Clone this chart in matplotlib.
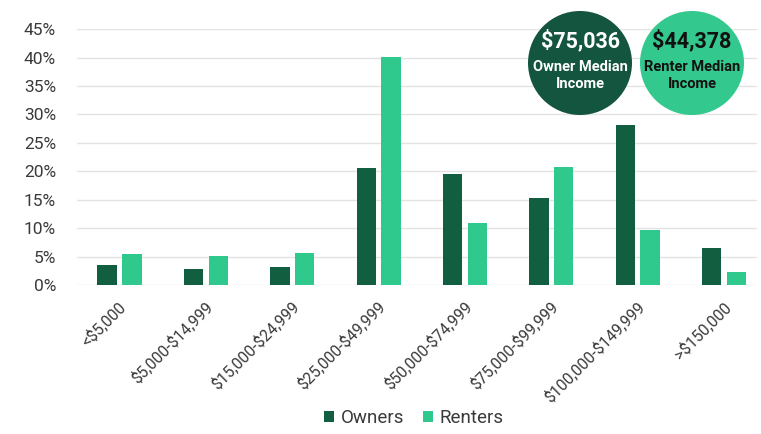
import matplotlib
matplotlib.use("Agg")
import matplotlib.pyplot as plt
from matplotlib.patches import Circle, Patch
import numpy as np

categories = ["<$5,000", "$5,000-$14,999", "$15,000-$24,999", "$25,000-$49,999",
              "$50,000-$74,999", "$75,000-$99,999", "$100,000-$149,999", ">$150,000"]
owners = [3.5, 2.9, 3.2, 20.6, 19.5, 15.4, 28.1, 6.6]
renters = [5.4, 5.1, 5.6, 40.1, 10.9, 20.7, 9.7, 2.3]
yticks = [0, 5, 10, 15, 20, 25, 30, 35, 40, 45]

owner_median = "$75,036"
renter_median = "$44,378"

OWNER_C = "#115e40"
RENTER_C = "#2fc98d"
TEXT_C = "#3a3a3a"

plt.rcParams['font.family'] = ['Roboto', 'DejaVu Sans']


def plain(s):
    # keep dollar signs literal instead of mathtext delimiters
    return s.replace("$", r"\$")


fig = plt.figure(figsize=(7.61, 4.34), dpi=100)
ax = fig.add_axes([0.101, 0.343, 0.894, 0.590])

x = np.arange(len(categories))
w = 0.226
off = 0.143
ax.bar(x - off, owners, width=w, color=OWNER_C, zorder=3)
ax.bar(x + off, renters, width=w, color=RENTER_C, zorder=3)

ax.set_xlim(-0.495, 7.385)
ax.set_ylim(0, 45)
ax.set_yticks(yticks)
ax.set_yticklabels([f"{v}%" for v in yticks], fontsize=12.5, color=TEXT_C)
ax.yaxis.grid(True, color="#e3e3e3", linewidth=1.0, zorder=0)
ax.set_axisbelow(True)
for s in ax.spines.values():
    s.set_visible(False)
ax.tick_params(axis="both", length=0)
ax.tick_params(axis="y", pad=15)

ax.set_xticks(x + 0.05)
ax.set_xticklabels([plain(c) for c in categories], rotation=45, ha="right", va="center",
                   rotation_mode="anchor", fontsize=11.3, color=TEXT_C)
ax.tick_params(axis="x", pad=14)

# Legend
handles = [Patch(facecolor=OWNER_C, label="Owners"),
           Patch(facecolor=RENTER_C, label="Renters")]
fig.legend(handles=handles, loc="center", bbox_to_anchor=(414 / 761, 1 - 418 / 434),
           ncol=2, frameon=False, fontsize=13.5, handlelength=0.55, handleheight=0.55,
           handletextpad=0.35, columnspacing=1.0, labelcolor=TEXT_C)


# Median income badges
def badge(cx_px, cy_px, r_px, color, txt_color, value, label):
    tr = fig.dpi_scale_trans
    cx, cy = cx_px / 100, (434 - cy_px) / 100
    fig.add_artist(Circle((cx, cy), r_px / 100, transform=tr, facecolor=color,
                          edgecolor="none", zorder=5))
    fig.text(cx, cy + 0.215, plain(value), transform=tr, ha="center", va="center",
             fontsize=15.5, fontweight="bold", color=txt_color, zorder=6)
    fig.text(cx, cy - 0.125, label, transform=tr, ha="center", va="center",
             fontsize=10.5, fontweight="bold", color=txt_color, linespacing=1.3, zorder=6)


badge(580, 63, 52, "#13553e", "white", owner_median, "Owner Median\nIncome")
badge(692, 63, 52, "#33c88e", "#111111", renter_median, "Renter Median\nIncome")

fig.savefig("out.png", dpi=100, facecolor="white")
